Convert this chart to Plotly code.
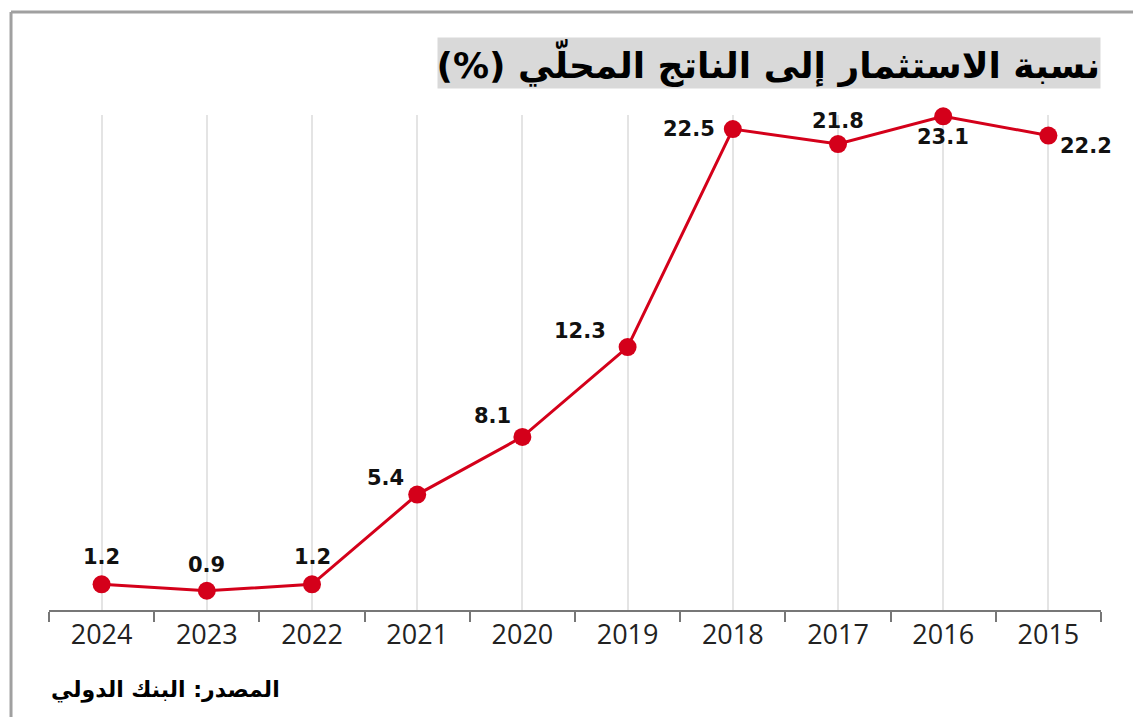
import plotly.graph_objects as go

years = [2024, 2023, 2022, 2021, 2020, 2019, 2018, 2017, 2016, 2015]
values = [1.2, 0.9, 1.2, 5.4, 8.1, 12.3, 22.5, 21.8, 23.1, 22.2]
title_text = "نسبة الاستثمار إلى الناتج المحلّي (%)"
source_text = "المصدر: البنك الدولي"

# label offsets (style only), in pixels
label_dx = [0, 0, 0, -32, -30, -48, -44, 0, 0, 38]
label_dy = [27, 26, 27, 17, 21, 16, 0, 23, -21, -10]

RED = "#d4001a"

fig = go.Figure()
fig.add_trace(go.Scatter(
    x=years, y=values, mode="lines+markers",
    line=dict(color=RED, width=3),
    marker=dict(color=RED, size=18),
    cliponaxis=False, hoverinfo="skip",
))

annotations = []
for yr, v, dx, dy in zip(years, values, label_dx, label_dy):
    annotations.append(dict(
        x=yr, y=v, xref="x", yref="y", text=f"{v:.1f}", showarrow=False,
        xshift=dx, yshift=dy,
        font=dict(family="DejaVu Sans", size=21, color="#111111", weight="bold"),
    ))

annotations.append(dict(
    x=1.0, y=1.106, xref="paper", yref="paper", xanchor="right", yanchor="middle",
    text="<b>" + title_text + "\u200f</b>", showarrow=False,
    font=dict(family="DejaVu Sans", size=36, color="#000000"),
    bgcolor="#d9d9d9", width=662, height=50, align="right", borderpad=0,
))
annotations.append(dict(
    x=0.0, y=-0.1616, xref="paper", yref="paper", xanchor="left", yanchor="middle",
    text="<b>" + source_text + "</b>", showarrow=False,
    font=dict(family="DejaVu Sans", size=22, color="#000000"),
))

fig.update_layout(
    width=1133, height=717,
    margin=dict(l=49, r=32, t=115, b=107),
    paper_bgcolor="white", plot_bgcolor="white",
    showlegend=False,
    annotations=annotations,
    shapes=[
        dict(type="line", xref="paper", yref="paper", x0=-0.0361, x1=1.1, y0=1.208, y1=1.208,
             line=dict(color="#a0a0a0", width=3)),
        dict(type="line", xref="paper", yref="paper", x0=-0.0361, x1=-0.0361, y0=1.208, y1=-0.3,
             line=dict(color="#a0a0a0", width=3)),
    ],
    xaxis=dict(
        range=[2024.5, 2014.5],
        tickvals=years, ticktext=[str(y) for y in years],
        ticks="", showgrid=True, gridcolor="#e4e4e4", gridwidth=2,
        zeroline=False, showline=True, linecolor="#777777", linewidth=2,
        tickfont=dict(family="Open Sans", size=27, color="#222222"),
        minor=dict(tick0=2014.5, dtick=1, ticks="outside", ticklen=10,
                   tickcolor="#777777", tickwidth=2, showgrid=False),
        fixedrange=True,
    ),
    yaxis=dict(range=[0, 23.16], visible=False, showgrid=False, zeroline=False, fixedrange=True),
)

fig.write_html("out.html", config={"displayModeBar": False},
               post_script="document.body.style.margin='0px';")
